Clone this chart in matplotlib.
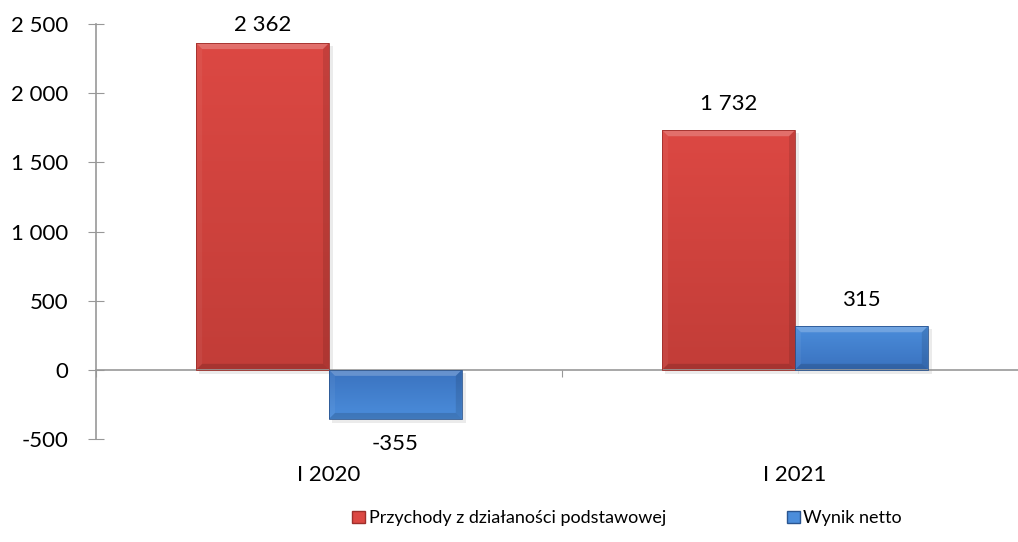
import numpy as np
import matplotlib
matplotlib.use('Agg')
import matplotlib.pyplot as plt
from matplotlib.patches import Patch, Polygon
from matplotlib.colors import LinearSegmentedColormap
from matplotlib.transforms import blended_transform_factory, IdentityTransform

plt.rcParams['font.family'] = ['Lato', 'DejaVu Sans']

# dane
categories = ['I 2020', 'I 2021']
series_names = ['Przychody z działaności podstawowej', 'Wynik netto']
przychody = [2362, 1732]
wynik = [-355, 315]
value_labels_p = ['2 362', '1 732']
value_labels_w = ['-355', '315']
yticks = [-500, 0, 500, 1000, 1500, 2000, 2500]
ytick_labels = ['-500', '0', '500', '1 000', '1 500', '2 000', '2 500']

RED_TOP, RED_BOT, RED_EDGE = '#dc4843', '#c23d38', '#9e2f2b'
BLUE_TOP, BLUE_BOT, BLUE_EDGE = '#4b8ddb', '#3a72bf', '#2a5590'
AXIS_COL = '#989898'
FS = 16

fig = plt.figure(figsize=(10.18, 5.42), dpi=100)
ax = fig.add_axes([96 / 1018, 103 / 542, 932 / 1018, 415 / 542])

x = np.arange(len(categories))
w = 0.285

ax.set_xlim(-0.5, len(categories) - 0.5)
ax.set_ylim(-500, 2500)


def style_bars(bars, top, bot):
    cmap = LinearSegmentedColormap.from_list('g', [bot, top])
    for b in bars:
        x0, y0 = b.get_x(), b.get_y()
        x1, y1 = x0 + b.get_width(), y0 + b.get_height()
        grad = np.linspace(0, 1, 100).reshape(-1, 1)
        if b.get_height() < 0:
            grad = grad[::-1]
        im = ax.imshow(grad, cmap=cmap, aspect='auto', origin='lower',
                       extent=[x0, x1, min(y0, y1), max(y0, y1)], zorder=2)
        im.set_clip_path(b)
        b.set_facecolor('none')
        # fazowanie krawedzi
        (px0, py0), (px1, py1) = ax.transData.transform([(x0, min(y0, y1)), (x1, max(y0, y1))])
        bv = 6
        shapes = [
            ([(px0, py1), (px1, py1), (px1 - bv, py1 - bv), (px0 + bv, py1 - bv)], 'white', 0.22),
            ([(px0, py0), (px0, py1), (px0 + bv, py1 - bv), (px0 + bv, py0 + bv)], 'white', 0.05),
            ([(px1, py0), (px1, py1), (px1 - bv, py1 - bv), (px1 - bv, py0 + bv)], 'black', 0.10),
            ([(px0, py0), (px1, py0), (px1 - bv, py0 + bv), (px0 + bv, py0 + bv)], 'black', 0.14),
        ]
        for pts, c, a in shapes:
            ax.add_patch(Polygon(pts, closed=True, transform=IdentityTransform(),
                                 facecolor=c, alpha=a, edgecolor='none', zorder=2.5))
        # cien
        ax.add_patch(Polygon([(px0 + 3, py0 - 4), (px1 + 4, py0 - 4), (px1 + 4, py1 - 3),
                              (px1, py1 - 3), (px1, py0), (px0 + 3, py0)],
                             closed=True, transform=IdentityTransform(),
                             facecolor='#000000', alpha=0.08, edgecolor='none', zorder=1.5))


bars_p = ax.bar(x - w / 2, przychody, w, edgecolor=RED_EDGE, linewidth=0.6, zorder=3)
bars_w = ax.bar(x + w / 2, wynik, w, edgecolor=BLUE_EDGE, linewidth=0.6, zorder=3)
style_bars(bars_p, RED_TOP, RED_BOT)
style_bars(bars_w, BLUE_TOP, BLUE_BOT)

# etykiety wartosci
ymax = ax.get_ylim()[1]
for b, lab in zip(list(bars_p) + list(bars_w), value_labels_p + value_labels_w):
    h = b.get_height()
    if h >= 0:
        off = 13 if h > 0.9 * ymax else 19
    else:
        off = -18
    ax.annotate(lab, (b.get_x() + b.get_width() / 2, h), xytext=(0, off),
                textcoords='offset points', ha='center', va='center', fontsize=FS)

ax.set_yticks(yticks)
ax.set_yticklabels(ytick_labels, fontsize=FS)
ax.tick_params(axis='y', direction='inout', length=12, color=AXIS_COL, pad=14)

ax.set_xticks(np.arange(len(categories) + 1) - 0.5)
ax.set_xticklabels([])
ax.tick_params(axis='x', direction='out', length=5, color=AXIS_COL)

for s in ['top', 'right']:
    ax.spines[s].set_visible(False)
ax.spines['bottom'].set_position(('data', 0))
for s in ['left', 'bottom']:
    ax.spines[s].set_color(AXIS_COL)
    ax.spines[s].set_linewidth(1.2)

trans = blended_transform_factory(ax.transData, ax.transAxes)
for xi, cat in zip(x, categories):
    ax.text(xi, -0.087, cat, transform=trans, ha='center', va='center', fontsize=FS)

handles = [Patch(facecolor=RED_TOP, edgecolor=RED_EDGE),
           Patch(facecolor=BLUE_TOP, edgecolor=BLUE_EDGE)]
fig.legend(handles, series_names, loc='center', bbox_to_anchor=(0.616, 0.044),
           ncol=2, frameon=False, fontsize=13, handlelength=0.7, handleheight=0.7,
           handletextpad=0.2, columnspacing=6.7)

fig.savefig('out.png', dpi=100)
